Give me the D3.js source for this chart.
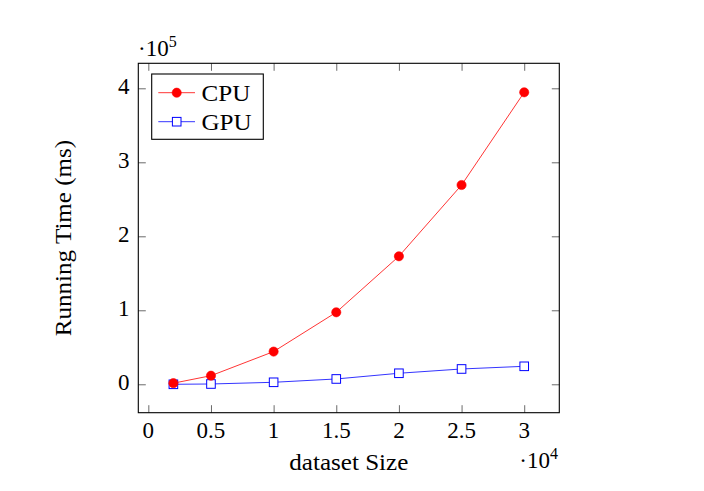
<!DOCTYPE html>
<html>
<head>
<meta charset="utf-8">
<script src="https://cdn.jsdelivr.net/npm/d3@7"></script>
<style>
  html, body { margin: 0; padding: 0; background: #fff; }
  svg { display: block; }
  text { font-family: "Liberation Serif", "Times New Roman", serif; fill: #000; }
</style>
</head>
<body>
<svg id="chart" width="704" height="491"></svg>
<script>
// ---- data ----
const datasetSizes = [2000, 5000, 10000, 15000, 20000, 25000, 30000];
const cpuTimes = [1500, 11600, 44200, 97300, 173000, 269300, 394600];
const gpuTimes = [0, 400, 2700, 7200, 14900, 20700, 24300];
const seriesNames = ["CPU", "GPU"];
const xTickValues = [0, 5000, 10000, 15000, 20000, 25000, 30000];
const xTickLabels = ["0", "0.5", "1", "1.5", "2", "2.5", "3"];
const yTickValues = [0, 100000, 200000, 300000, 400000];
const yTickLabels = ["0", "1", "2", "3", "4"];

// ---- layout ----
const svg = d3.select("#chart");
const L = 138.3, R = 559.3, T = 63.3, B = 412.7;
const FS = 23;
const stretch = 1.09;

const x = d3.scaleLinear().domain([-800, 32800]).range([L, R]);
const y = d3.scaleLinear().domain([-38400, 433800]).range([B, T]);

function widen(sel, f) {
  sel.each(function () {
    const w = this.getComputedTextLength();
    d3.select(this).attr("textLength", w * f).attr("lengthAdjust", "spacingAndGlyphs");
  });
}

// ticks (inside, mirrored) via d3 axes
const tickLen = 7.5;
const axB = svg.append("g").attr("transform", `translate(0,${B})`)
  .call(d3.axisTop(x).tickValues(xTickValues).tickSize(tickLen).tickFormat(""));
const axT = svg.append("g").attr("transform", `translate(0,${T})`)
  .call(d3.axisBottom(x).tickValues(xTickValues).tickSize(tickLen).tickFormat(""));
const axL = svg.append("g").attr("transform", `translate(${L},0)`)
  .call(d3.axisRight(y).tickValues(yTickValues).tickSize(tickLen).tickFormat(""));
const axR = svg.append("g").attr("transform", `translate(${R},0)`)
  .call(d3.axisLeft(y).tickValues(yTickValues).tickSize(tickLen).tickFormat(""));
[axB, axT, axL, axR].forEach(a => {
  a.select(".domain").remove();
  a.selectAll(".tick line").attr("stroke", "#444").attr("stroke-width", 0.8);
});

// tick labels
svg.append("g").selectAll("text").data(xTickValues).join("text")
  .attr("x", d => x(d)).attr("y", 437.5)
  .attr("text-anchor", "middle").attr("font-size", FS)
  .text((d, i) => xTickLabels[i]);
svg.append("g").selectAll("text").data(yTickValues).join("text")
  .attr("x", 129.5).attr("y", d => y(d) + 5.5)
  .attr("text-anchor", "end").attr("font-size", FS)
  .text((d, i) => yTickLabels[i]);

// lines & markers
const line = d3.line().x(d => x(d[0])).y(d => y(d[1]));
const cpuData = datasetSizes.map((d, i) => [d, cpuTimes[i]]);
const gpuData = datasetSizes.map((d, i) => [d, gpuTimes[i]]);

svg.append("path").datum(gpuData).attr("d", line)
  .attr("fill", "none").attr("stroke", "#0000ff").attr("stroke-width", 0.8);
svg.append("path").datum(cpuData).attr("d", line)
  .attr("fill", "none").attr("stroke", "#ff0000").attr("stroke-width", 0.8);

const sq = 8.6;
svg.append("g").selectAll("rect").data(gpuData).join("rect")
  .attr("x", d => x(d[0]) - sq / 2).attr("y", d => y(d[1]) - sq / 2)
  .attr("width", sq).attr("height", sq)
  .attr("fill", "#fff").attr("stroke", "#0000ff").attr("stroke-width", 1);
svg.append("g").selectAll("circle").data(cpuData).join("circle")
  .attr("cx", d => x(d[0])).attr("cy", d => y(d[1])).attr("r", 4.6)
  .attr("fill", "#ff0000").attr("stroke", "#ff0000").attr("stroke-width", 0.6);

// frame
svg.append("rect").attr("x", L).attr("y", T).attr("width", R - L).attr("height", B - T)
  .attr("fill", "none").attr("stroke", "#000").attr("stroke-width", 1.1);

// legend
const lg = svg.append("g");
lg.append("rect").attr("x", 151.7).attr("y", 74).attr("width", 111.6).attr("height", 65.3)
  .attr("fill", "#fff").attr("stroke", "#000").attr("stroke-width", 1.1);
const rows = [92.7, 121.7];
const colors = ["#ff0000", "#0000ff"];
seriesNames.forEach((name, i) => {
  lg.append("line").attr("x1", 158.3).attr("x2", 195).attr("y1", rows[i]).attr("y2", rows[i])
    .attr("stroke", colors[i]).attr("stroke-width", 0.8);
  if (i === 0) {
    lg.append("circle").attr("cx", 176.7).attr("cy", rows[i]).attr("r", 4.6)
      .attr("fill", colors[i]).attr("stroke", colors[i]).attr("stroke-width", 0.6);
  } else {
    lg.append("rect").attr("x", 176.7 - sq / 2).attr("y", rows[i] - sq / 2)
      .attr("width", sq).attr("height", sq)
      .attr("fill", "#fff").attr("stroke", colors[i]).attr("stroke-width", 1);
  }
  const t = lg.append("text").attr("x", 201.5).attr("y", rows[i] + 7.8)
    .attr("font-size", FS).text(name);
  widen(t, stretch);
});

// axis labels
const xl = svg.append("text").attr("x", (L + R) / 2).attr("y", 470)
  .attr("text-anchor", "middle").attr("font-size", FS).text("dataset Size");
widen(xl, stretch);
const yl = svg.append("text")
  .attr("transform", `translate(71,${(T + B) / 2}) rotate(-90)`)
  .attr("text-anchor", "middle").attr("font-size", FS).text("Running Time (ms)");
widen(yl, stretch);

// exponent labels
const e5 = svg.append("text").attr("x", 138).attr("y", 55.5).attr("font-size", FS);
e5.append("tspan").text("·10");
e5.append("tspan").attr("font-size", 16).attr("dy", -9).text("5");
const e4 = svg.append("text").attr("x", 558).attr("y", 468.3).attr("font-size", FS)
  .attr("text-anchor", "end");
e4.append("tspan").text("·10");
e4.append("tspan").attr("font-size", 16).attr("dy", -9).text("4");
</script>
</body>
</html>
